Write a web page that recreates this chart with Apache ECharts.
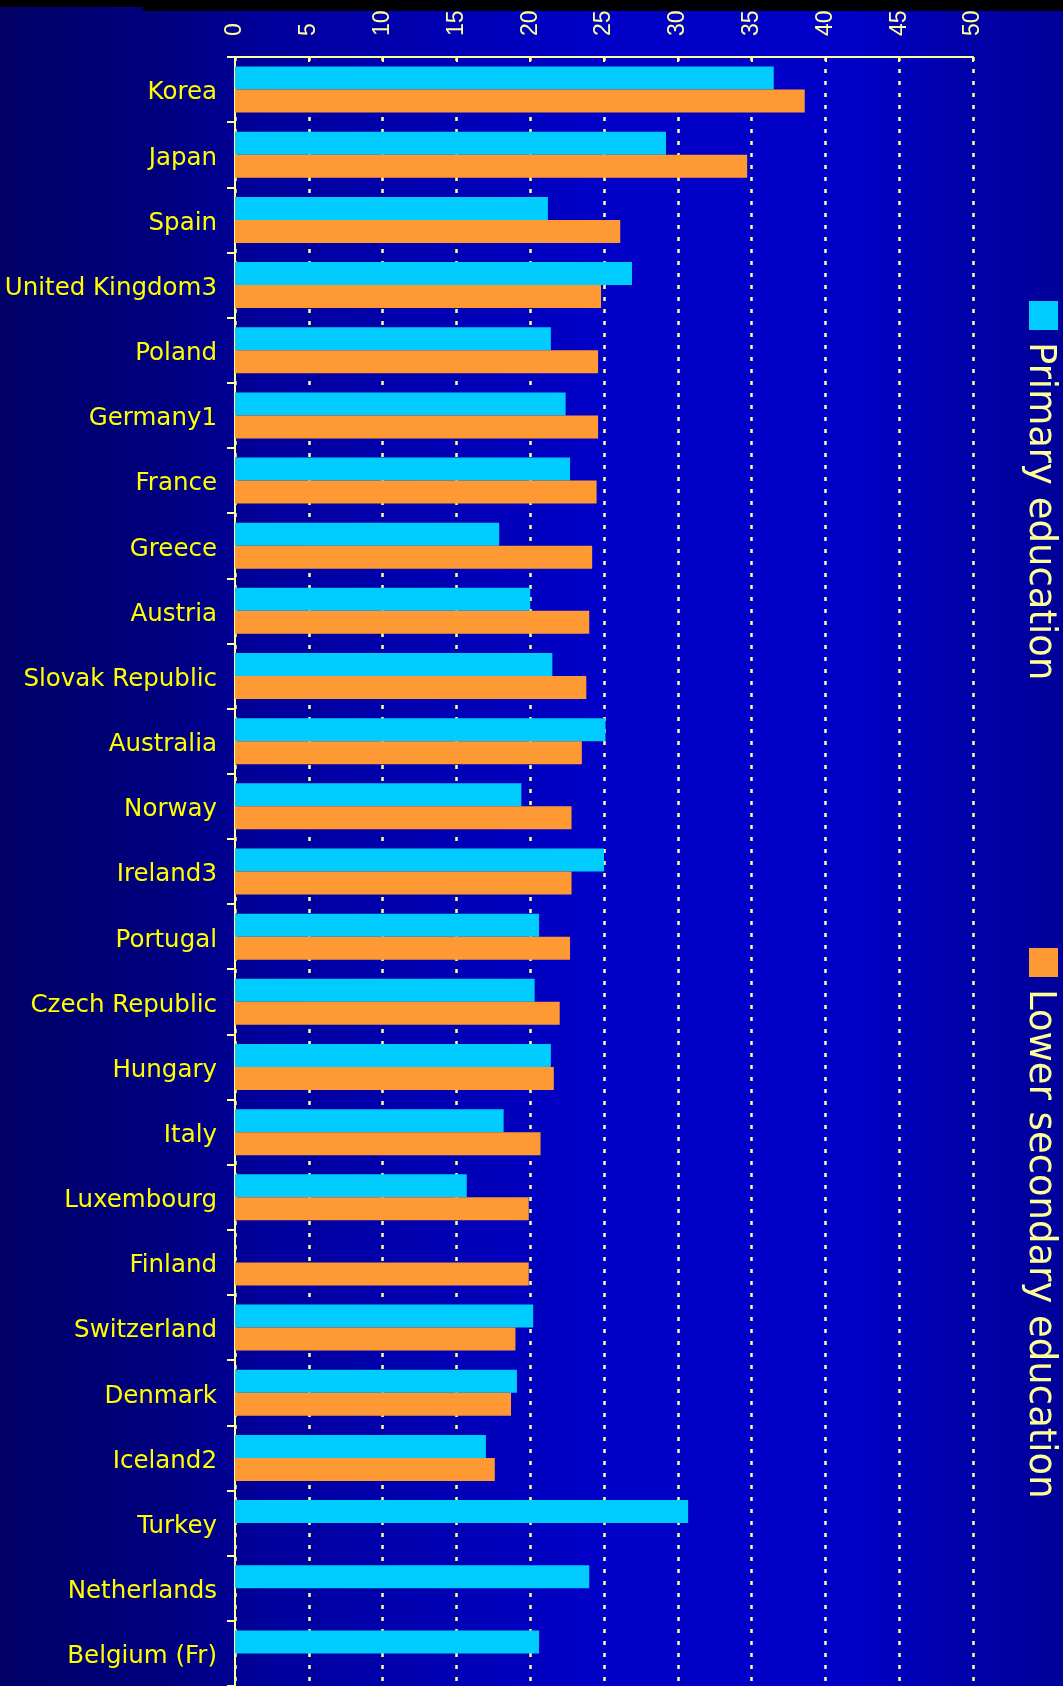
<!DOCTYPE html>
<html>
<head>
<meta charset="utf-8">
<script src="https://cdn.jsdelivr.net/npm/echarts@6/dist/echarts.min.js"></script>
<style>
html,body{margin:0;padding:0;background:#000080;}
#chart{width:1063px;height:1686px;}
</style>
</head>
<body>
<div id="chart"></div>
<script>
const categories = ["Korea","Japan","Spain","United Kingdom3","Poland","Germany1","France","Greece","Austria","Slovak Republic","Australia","Norway","Ireland3","Portugal","Czech Republic","Hungary","Italy","Luxembourg","Finland","Switzerland","Denmark","Iceland2","Turkey","Netherlands","Belgium (Fr)"];
const primary = [36.5,29.2,21.2,26.9,21.4,22.4,22.7,17.9,20.0,21.5,25.1,19.4,25.0,20.6,20.3,21.4,18.2,15.7,null,20.2,19.1,17.0,30.7,24.0,20.6];
const lowerSecondary = [38.6,34.7,26.1,24.8,24.6,24.6,24.5,24.2,24.0,23.8,23.5,22.8,22.8,22.7,22.0,21.6,20.7,19.9,19.9,19.0,18.7,17.6,null,null,null];
const seriesNames = ["Primary education","Lower secondary education"];
const xTicks = {min:0, max:50, interval:5};

const chart = echarts.init(document.getElementById('chart'));
const pale = '#ffff99';
chart.setOption({
  animation:false,
  backgroundColor:{type:'linear',x:0,y:0,x2:1,y2:0,colorStops:[
    {offset:0,color:'#000066'},{offset:0.15,color:'#00007e'},{offset:0.25,color:'#00009c'},
    {offset:0.55,color:'#0000c6'},{offset:0.8,color:'#0000c8'},{offset:0.9,color:'#0000aa'},{offset:1,color:'#000099'}]},
  grid:{left:235,right:90,top:57,bottom:0,containLabel:false,outerBoundsMode:'none'},
  xAxis:{type:'value',position:'top',min:xTicks.min,max:xTicks.max,interval:xTicks.interval,
    axisLine:{show:true,lineStyle:{color:pale,width:2}},
    axisTick:{show:true,inside:true,length:5,lineStyle:{color:pale,width:2}},
    axisLabel:{rotate:-90,margin:21,color:pale,fontFamily:'Liberation Sans',fontSize:23},
    splitLine:{show:true,lineStyle:{color:pale,width:2.5,type:[4,8]}}},
  yAxis:{type:'category',inverse:true,data:categories,
    axisLine:{show:true,lineStyle:{color:pale,width:2}},
    axisTick:{show:true,length:8,lineStyle:{color:pale,width:2}},
    axisLabel:{margin:18,color:'#ffff00',fontFamily:'DejaVu Sans',fontSize:24.5,
      formatter:function(v){return '{a|'+v+'}';},
      rich:{a:{color:'#ffff00',fontFamily:'DejaVu Sans',fontSize:24.5,padding:[7,0,0,0]}}}},
  series:[
    {name:seriesNames[0],type:'bar',data:primary,barWidth:23,barGap:'0%',itemStyle:{color:'#00ccff'}},
    {name:seriesNames[1],type:'bar',data:lowerSecondary,barWidth:23,barGap:'0%',itemStyle:{color:'#ff9933'}}
  ],
  graphic:[
    {type:'rect',left:0,top:0,shape:{width:143,height:7},style:{fill:'#000000'},silent:true},
    {type:'rect',left:143,top:0,shape:{width:920,height:11},style:{fill:'#000000'},silent:true},
    {type:'rect',x:1029,y:301,shape:{width:29,height:29},style:{fill:'#00ccff'}},
    {type:'text',x:1040,y:342,rotation:-Math.PI/2,style:{text:seriesNames[0],fill:pale,font:'37px "DejaVu Sans"',textAlign:'left',textVerticalAlign:'middle'}},
    {type:'rect',x:1029,y:948,shape:{width:29,height:29},style:{fill:'#ff9933'}},
    {type:'text',x:1040,y:989,rotation:-Math.PI/2,style:{text:seriesNames[1],fill:pale,font:'37px "DejaVu Sans"',textAlign:'left',textVerticalAlign:'middle'}}
  ]
});
</script>
</body>
</html>
